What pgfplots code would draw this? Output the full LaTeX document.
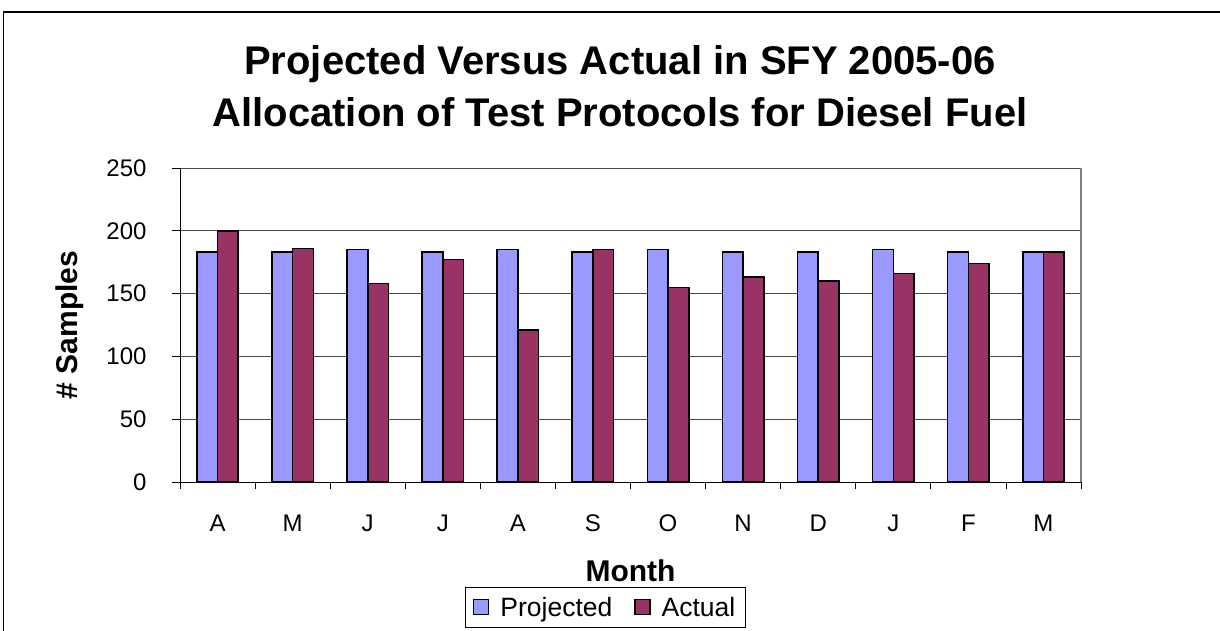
\documentclass[border=0pt]{standalone}
\usepackage{fontspec}
\setmainfont{Liberation Sans}
\usepackage{pgfplots}
\pgfplotsset{compat=1.18}
\definecolor{proj}{HTML}{9999FF}
\definecolor{act}{HTML}{993366}
\definecolor{gridc}{HTML}{4A4A4A}
\begin{document}
\begin{tikzpicture}
\useasboundingbox (0pt,0pt) rectangle (1220pt,-631pt);
\begin{scope}
\clip (0pt,0pt) rectangle (1220pt,-631pt);
\draw[black, line width=1.2pt] (3.5pt,-12pt) rectangle (1260pt,-680pt);
\end{scope}
\node[font=\bfseries\fontsize{40}{52}\selectfont, anchor=base] at (620pt,-75pt) {Projected Versus Actual in SFY 2005-06};
\node[font=\bfseries\fontsize{40}{52}\selectfont, anchor=base] at (620pt,-127pt) {Allocation of Test Protocols for Diesel Fuel};
\begin{axis}[
  at={(180pt,-482pt)}, anchor=south west,
  scale only axis, width=901pt, height=314pt,
  ymin=0, ymax=250, ytick={0,50,...,250},
  xmin=-0.5, xmax=11.5,
  xtick={0,...,11},
  xticklabels={A,M,J,J,A,S,O,N,D,J,F,M},
  minor xtick={-0.5,0.5,...,11.5},
  tick align=outside,
  major x tick style={draw=none},
  minor x tick style={draw=black, line width=0.8pt},
  major y tick style={draw=black, line width=0.8pt},
  major tick length=8pt, minor tick length=7pt,
  axis x line*=bottom, axis y line*=left,
  axis line style={black, line width=1pt, -},
  ymajorgrids, grid style={gridc, line width=0.9pt},
  ybar=0pt, bar width=20.7pt,
  /pgf/number format/assume math mode=true,
  tick label style={font=\fontsize{24}{27}\selectfont},
  xticklabel style={yshift=-21pt},
  yticklabel style={xshift=-22pt},
  xlabel={\bfseries Month}, ylabel={\bfseries \# Samples},
  label style={font=\bfseries\fontsize{30}{34}\selectfont},
  xlabel style={at={(axis description cs:0.5,-0.3175)}, anchor=base},
  ylabel style={at={(axis description cs:-0.122,0.5)}, anchor=center},
  legend columns=2,
  legend style={at={(axis description cs:0.316,-0.333)}, anchor=north west, draw=black, line width=0.8pt, font=\fontsize{26.5}{30}\selectfont, inner xsep=8pt, inner ysep=8pt, /tikz/every even column/.append style={column sep=20pt}, /tikz/every odd column/.append style={column sep=9pt}},
  legend image code/.code={\draw[#1, draw=black, line width=1.3pt] (0pt,-7.5pt) rectangle (15pt,7.5pt);},
  after end axis/.code={\draw[gray, line width=1.2pt] (rel axis cs:1,0) -- (rel axis cs:1,1);},
  clip=false,
]
\addplot[fill=proj, draw=black, line width=1.6pt] coordinates {
(0,183) (1,183) (2,185) (3,183) (4,185) (5,183) (6,185) (7,183) (8,183) (9,185) (10,183) (11,183)};
\addplot[fill=act, draw=black, line width=1.6pt] coordinates {
(0,200) (1,186) (2,158) (3,177) (4,121) (5,185) (6,155) (7,163) (8,160) (9,166) (10,174) (11,183)};
\legend{Projected,Actual}
\end{axis}
\end{tikzpicture}
\end{document}
